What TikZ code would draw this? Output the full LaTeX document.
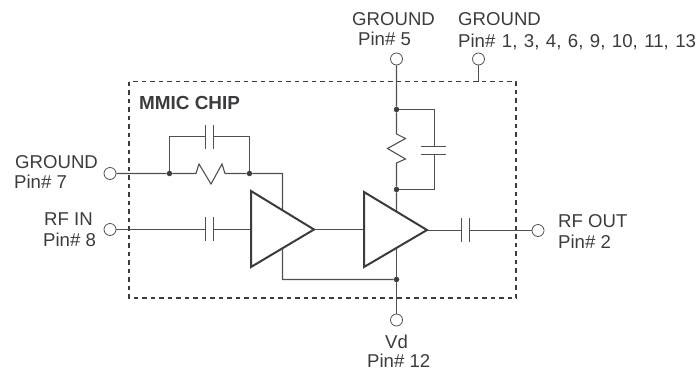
\documentclass[tikz,border=0pt]{standalone}
\usepackage{fontspec}
\setmainfont{Liberation Sans}
\definecolor{ink}{HTML}{3C3C3E}
\definecolor{wire}{HTML}{505052}
\tikzset{
  x=1pt,y=-1pt,
  wirestyle/.style={draw=wire,line width=1.1pt,line join=miter},
  pin/.style={circle,draw=wire,fill=white,line width=0.8pt,minimum size=12pt,inner sep=0pt},
  dot/.style={circle,fill=ink,minimum size=5.5pt,inner sep=0pt},
  amp/.style={draw=ink,fill=white,line width=2pt,line join=miter},
  chipbox/.style={draw=ink,line width=1.4pt,dash pattern=on 4.5pt off 4pt},
  lbl/.style={text=ink,font=\fontsize{18.6}{20}\selectfont,inner sep=0pt,anchor=base west},
  plate/.style={draw=wire,line width=1pt},
}
\begin{document}
\begin{tikzpicture}
\useasboundingbox (0,0) rectangle (700,375);
% chip outline
\path[chipbox,draw] (129,81.5) rectangle (516,298);
% pins
\node[pin] (p7) at (110,173.5) {};
\node[pin] (p8) at (110,229.5) {};
\node[pin] (p5) at (396.5,59) {};
\node[pin] (pg) at (478.5,59) {};
\node[pin] (p12) at (396.5,320) {};
\node[pin] (p2) at (538,230.5) {};
% junctions
\node[dot] (j1) at (169.5,173.5) {};
\node[dot] (j2) at (249.5,173.5) {};
\node[dot] (j3) at (396.5,109.5) {};
\node[dot] (j4) at (396.5,189.5) {};
\node[dot] (j5) at (396.5,279.5) {};
% helper coordinates
\coordinate (c1a) at (205.5,136.5);
\coordinate (c1b) at (213.5,136.5);
\coordinate (t1) at (169.5,136.5);
\coordinate (t2) at (249.5,136.5);
\coordinate (r1a) at (196,173.5);
\coordinate (r1b) at (225,173.5);
\coordinate (c2a) at (205.5,229.5);
\coordinate (c2b) at (213.5,229.5);
\coordinate (a1in) at (251,229.5);
\coordinate (a1out) at (314,229.5);
\coordinate (a2in) at (364,229.5);
\coordinate (a2out) at (427,230.5);
\coordinate (k1) at (282.5,173.5);
\coordinate (k2) at (282.5,279.5);
\coordinate (c3a) at (461.5,230.5);
\coordinate (c3b) at (469.5,230.5);
\coordinate (r2a) at (396.5,134);
\coordinate (r2b) at (396.5,163);
\coordinate (b1) at (434.5,109.5);
\coordinate (b2) at (434.5,189.5);
\coordinate (c4a) at (434.5,146.5);
\coordinate (c4b) at (434.5,154.5);
\coordinate (stub) at (478.5,81.5);
\coordinate (am) at (396.5,230);
% wires
\draw[wirestyle] (p7) -- (j1) -- (r1a) -- ++(3,-9.5) -- ++(12,20) -- ++(11,-20) -- (r1b) -- (j2) -- (k1) -- (k2) -- (j5);
\draw[wirestyle] (j1) -- (t1) -- (c1a);
\draw[wirestyle] (j2) -- (t2) -- (c1b);
\draw[wirestyle] (p8) -- (c2a);
\draw[wirestyle] (c2b) -- (a1in);
\draw[wirestyle] (a1out) -- (a2in);
\draw[wirestyle] (a2out) -- (c3a);
\draw[wirestyle] (c3b) -- (p2);
\draw[wirestyle] (p5) -- (j3) -- (r2a) -- ++(9,4.5) -- ++(-18,10) -- ++(18,10.5) -- (r2b) -- (j4) -- (am);
\draw[wirestyle] (j3) -- (b1) -- (c4a);
\draw[wirestyle] (j4) -- (b2) -- (c4b);
\draw[wirestyle] (am) -- (j5) -- (p12);
\draw[wirestyle] (pg) -- (stub);
% capacitor plates
\draw[plate] (205.5,125) -- (205.5,149);
\draw[plate] (213.5,125) -- (213.5,149);
\draw[plate] (205.5,217) -- (205.5,241);
\draw[plate] (213.5,217) -- (213.5,241);
\draw[plate] (461.5,218) -- (461.5,242);
\draw[plate] (469.5,218) -- (469.5,242);
\draw[plate] (421,146.5) -- (446,146.5);
\draw[plate] (421,154.5) -- (446,154.5);
% amplifiers
\path[amp] (251,191) -- (314,229.5) -- (251,267) -- cycle;
\path[amp] (364,192) -- (427,230) -- (364,267) -- cycle;
% labels
\node[lbl,font=\fontsize{18.9}{20}\selectfont\bfseries] (chip) at (139,109.5) {MMIC CHIP};
\node[lbl] (l5a) at (352,25.5) {GROUND};
\node[lbl] (l5b) at (358,45.5) {Pin\# 5};
\node[lbl] (lga) at (458,25.5) {GROUND};
\node[lbl] (lgb) at (458,47) {\spaceskip=6.5pt Pin\# 1, 3, 4, 6, 9, 10, 11, 13};
\node[lbl] (l7a) at (15,168) {GROUND};
\node[lbl] (l7b) at (14,188) {Pin\# 7};
\node[lbl] (l8a) at (44,225) {RF IN};
\node[lbl] (l8b) at (43,246) {Pin\# 8};
\node[lbl] (l2a) at (558,227) {RF OUT};
\node[lbl] (l2b) at (558,248) {Pin\# 2};
\node[lbl] (l12a) at (385,348) {Vd};
\node[lbl] (l12b) at (367,367.5) {Pin\# 12};
\end{tikzpicture}
\end{document}
